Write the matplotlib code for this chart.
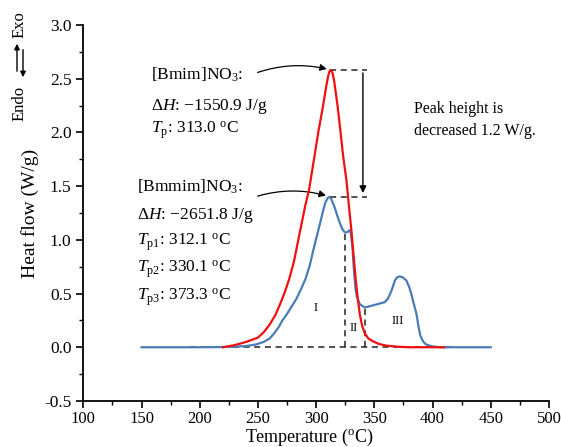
import matplotlib
matplotlib.use("Agg")
import matplotlib.pyplot as plt
from matplotlib.ticker import MultipleLocator, FormatStrFormatter

plt.rcParams['font.family'] = ['Liberation Serif', 'DejaVu Serif']
plt.rcParams['mathtext.fontset'] = 'custom'
plt.rcParams['mathtext.rm'] = 'Liberation Serif'
plt.rcParams['mathtext.it'] = 'Liberation Serif:italic'
plt.rcParams['axes.unicode_minus'] = False

# [Bmim]NO3 (red)
bmim_T = [220, 225, 230, 235, 240, 245, 250, 255, 260, 265, 269, 273, 277, 281,
          284.5, 287.5, 290.5, 294, 298, 302, 306, 309, 310.5, 311.4, 312.3, 313.2, 314.2,
          315.5, 318.4, 321, 323.2, 326.1, 328.3, 330.4, 332.2, 334.1, 335.8, 337.5, 339.5,
          341.8, 345, 348.9, 354, 360.4, 370, 380, 410]
bmim_H = [0.0, 0.01, 0.02, 0.035, 0.05, 0.07, 0.09, 0.14, 0.21, 0.30, 0.40, 0.51, 0.64,
          0.80, 0.99, 1.15, 1.31, 1.47, 1.74, 2.01, 2.25, 2.45, 2.53, 2.567, 2.58, 2.575,
          2.55, 2.48, 2.25, 2.00, 1.78, 1.55, 1.30, 1.08, 0.85, 0.62, 0.45, 0.31, 0.20, 0.13,
          0.08, 0.055, 0.03, 0.015, 0.005, 0.0, 0.0]

# [Bmmim]NO3 (blue)
bmmim_T = [150, 200, 220, 230, 240, 248, 255, 260, 264, 268, 271, 275, 279, 283, 287, 291,
           294.5, 297.5, 300.5, 303.5, 306, 308, 310, 311.5, 313, 316, 318, 320.3, 322.5,
           324.6, 326.5, 328.9, 330, 331.2, 332.6, 333.8, 335, 337.5, 341.8, 348.9, 354, 359,
           361.5, 363.3, 365.5, 367.6, 369.5, 371.8, 374.5, 377.6, 380, 381.9, 384, 386.2,
           388, 389.5, 391.8, 394, 396, 400, 405, 410, 450]
bmmim_H = [0.0, 0.0, 0.002, 0.005, 0.012, 0.025, 0.05, 0.08, 0.13, 0.19, 0.25, 0.31, 0.38,
           0.45, 0.54, 0.64, 0.76, 0.90, 1.03, 1.16, 1.27, 1.35, 1.39, 1.40, 1.38, 1.30, 1.23,
           1.16, 1.10, 1.07, 1.07, 1.09, 1.05, 0.93, 0.70, 0.55, 0.47, 0.40, 0.37, 0.39, 0.405,
           0.42, 0.45, 0.49, 0.55, 0.62, 0.65, 0.66, 0.65, 0.62, 0.56, 0.49, 0.40, 0.31, 0.19,
           0.11, 0.055, 0.03, 0.02, 0.008, 0.002, 0.0, 0.0]

x_ticks = [100, 150, 200, 250, 300, 350, 400, 450, 500]
y_ticks = [-0.5, 0.0, 0.5, 1.0, 1.5, 2.0, 2.5, 3.0]

fig = plt.figure(figsize=(5.61, 4.47), dpi=100)
ax = fig.add_axes([0.1485, 0.103, 0.83, 0.841])

ax.plot(bmmim_T, bmmim_H, color='#4a7cb6', lw=1.6, zorder=3, solid_joinstyle='round')
ax.plot(bmim_T, bmim_H, color='#f01010', lw=1.6, zorder=4, solid_joinstyle='round')

dash = dict(color='#222222', lw=1.1, ls=(0, (4, 3)), zorder=2)
ax.plot([192, 421], [0, 0], **dash)
ax.plot([324.6, 324.6], [0, 1.07], **dash)
ax.plot([342, 342], [0, 0.37], **dash)
ax.plot([312, 343.5], [2.58, 2.58], **dash)
ax.plot([311.5, 343.5], [1.40, 1.40], **dash)

ax.annotate('', xy=(340.2, 1.41), xytext=(340.2, 2.58),
            arrowprops=dict(arrowstyle='-|>', color='black', lw=1.0, mutation_scale=10))
ax.annotate('', xy=(311.5, 2.585), xytext=(247.5, 2.55),
            arrowprops=dict(arrowstyle='-|>', color='black', lw=0.9, mutation_scale=10,
                            connectionstyle='arc3,rad=-0.15'))
ax.annotate('', xy=(310.8, 1.405), xytext=(247.5, 1.40),
            arrowprops=dict(arrowstyle='-|>', color='black', lw=0.9, mutation_scale=10,
                            connectionstyle='arc3,rad=-0.15'))

fs = 12.5
ax.text(158, 2.54, r'[Bmim]NO$_3$:', fontsize=fs, va='center')
ax.text(158, 2.24, r'$\mathit{\Delta H}$: −1550.9 J/g', fontsize=fs, va='center')
ax.text(158, 2.02, r'$\mathit{T}_{\rm p}$: 313.0 $^{\rm o}$C', fontsize=fs, va='center')

ax.text(146.5, 1.49, r'[Bmmim]NO$_3$:', fontsize=fs, va='center')
ax.text(146.5, 1.23, r'$\mathit{\Delta H}$: −2651.8 J/g', fontsize=fs, va='center')
ax.text(146.5, 0.98, r'$\mathit{T}_{\rm p1}$: 312.1 $^{\rm o}$C', fontsize=fs, va='center')
ax.text(146.5, 0.73, r'$\mathit{T}_{\rm p2}$: 330.1 $^{\rm o}$C', fontsize=fs, va='center')
ax.text(146.5, 0.47, r'$\mathit{T}_{\rm p3}$: 373.3 $^{\rm o}$C', fontsize=fs, va='center')

ax.text(384, 2.12, 'Peak height is\ndecreased 1.2 W/g.', fontsize=11.5, va='center',
        linespacing=1.5)

ax.text(299.5, 0.37, 'I', fontsize=9, ha='center', va='center')
ax.text(332, 0.18, 'II', fontsize=9, ha='center', va='center')
ax.text(370.5, 0.24, 'III', fontsize=9, ha='center', va='center')

ax.set_xlim(100, 500)
ax.set_ylim(-0.5, 3.0)
ax.set_xticks(x_ticks)
ax.set_yticks(y_ticks)
ax.xaxis.set_minor_locator(MultipleLocator(25))
ax.yaxis.set_minor_locator(MultipleLocator(0.25))
ax.yaxis.set_major_formatter(FormatStrFormatter('%.1f'))
ax.spines['top'].set_visible(False)
ax.spines['right'].set_visible(False)
for s in ('left', 'bottom'):
    ax.spines[s].set_linewidth(1.3)
ax.tick_params(which='major', direction='out', length=5, width=1.2, labelsize=12.5)
ax.tick_params(axis='x', which='major', labelsize=12, pad=2.5)
ax.tick_params(which='minor', direction='out', length=3, width=1.0)

fig.text(309 / 561, 1 - 441.5 / 447, r'Temperature ($^{\rm o}$C)', fontsize=13,
         ha='center', va='baseline')
ax.set_ylabel('Heat flow (W/g)', fontsize=14, labelpad=4)

# Endo / Exo indicator
fig.text(20 / 561, 1 - 103 / 447, 'Endo', rotation=90, fontsize=12, ha='center', va='center')
fig.text(20 / 561, 1 - 25 / 447, 'Exo', rotation=90, fontsize=12, ha='center', va='center')
ax.annotate('', xy=(17 / 561, 1 - 41 / 447), xytext=(17 / 561, 1 - 74 / 447),
            xycoords='figure fraction', textcoords='figure fraction',
            arrowprops=dict(arrowstyle='-|>', color='black', lw=1.0, mutation_scale=8))
ax.annotate('', xy=(23 / 561, 1 - 80 / 447), xytext=(23 / 561, 1 - 47 / 447),
            xycoords='figure fraction', textcoords='figure fraction',
            arrowprops=dict(arrowstyle='-|>', color='black', lw=1.0, mutation_scale=8))

fig.savefig('out.png', dpi=100)
